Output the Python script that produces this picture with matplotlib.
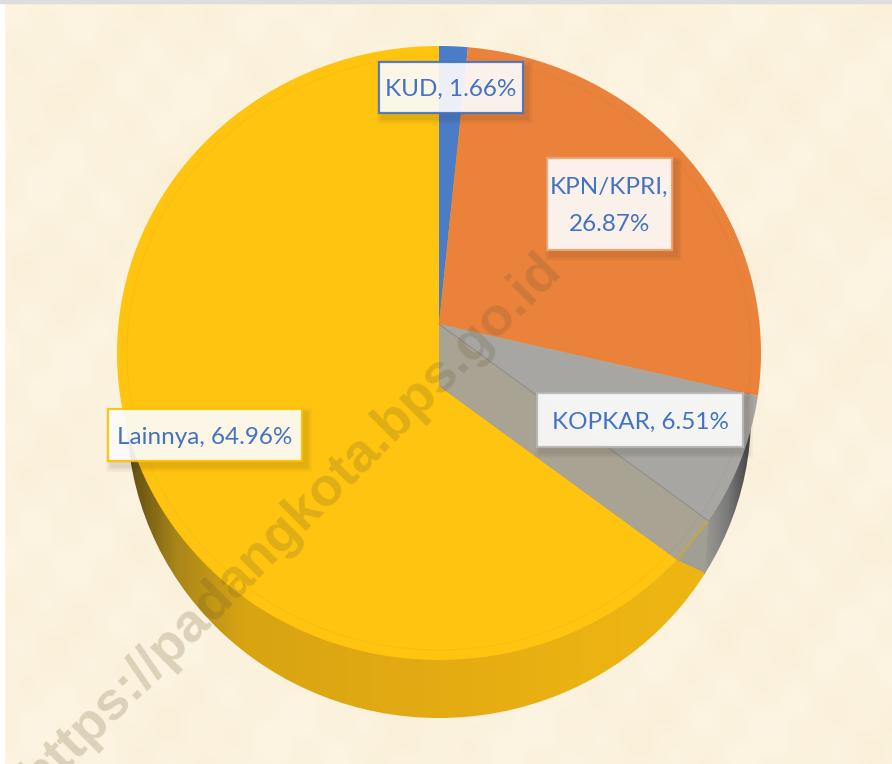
import numpy as np
import matplotlib
matplotlib.use("Agg")
import matplotlib.pyplot as plt
from matplotlib.colors import LinearSegmentedColormap
from matplotlib.patches import Ellipse, Rectangle

# chart data, clockwise from the top
categories = ["KUD", "KPN/KPRI", "KOPKAR", "Lainnya"]
shares = [1.66, 26.87, 6.51, 64.96]
label_texts = ["KUD, 1.66%", "KPN/KPRI,\n26.87%", "KOPKAR, 6.51%", "Lainnya, 64.96%"]
colors = ["#4A7CC7", "#EA823C", "#A8A6A3", "#FFC40F"]
edge_colors = ["#4472C4", "#F0A070", "#B5B5B5", "#FFC000"]
watermark = "https://padangkota.bps.go.id"

# everything is laid out in image pixels
W, H = 892, 764
APEX = np.array([439.0, 324.0])
TOP = (439.0, 353.0, 322.0, 307.0)     # top face ellipse cx, cy, rx, ry
LOW = (439.0, 415.0, 312.0, 303.0)     # lower rim ellipse
CUT = 62.0                             # height of the cut wall under the apex

plt.rcParams["font.family"] = ["Lato", "DejaVu Sans"]
fig = plt.figure(figsize=(W / 100, H / 100), dpi=100)
ax = fig.add_axes([0, 0, 1, 1])
ax.set_xlim(0, W)
ax.set_ylim(H, 0)
ax.axis("off")


def rim(origin, deg):
    # where a ray leaving origin at deg (clockwise from up) hits the top ellipse
    a = np.radians(deg)
    dx, dy = np.sin(a), -np.cos(a)
    cx, cy, rx, ry = TOP
    ox, oy = origin[0] - cx, origin[1] - cy
    A = (dx / rx) ** 2 + (dy / ry) ** 2
    B = 2 * (ox * dx / rx**2 + oy * dy / ry**2)
    C = (ox / rx) ** 2 + (oy / ry) ** 2 - 1
    s = (-B + np.sqrt(B**2 - 4 * A * C)) / (2 * A)
    return np.column_stack([origin[0] + s * dx, origin[1] + s * dy])


def face(origin, start, end):
    pts = rim(origin, np.linspace(start, end, 200))
    return np.vstack([origin, pts])


# paper background with a soft mottling
yy, xx = np.mgrid[0:H:4, 0:W:4]
mottle = (np.sin(xx / 37.0) * np.cos(yy / 29.0) + 0.6 * np.sin(xx / 13.0 + yy / 17.0)
          + 0.4 * np.cos(xx / 9.0 - yy / 11.0))
paper = LinearSegmentedColormap.from_list("paper", ["#FAF0D9", "#FDF5E3"])
ax.imshow(mottle, extent=(0, W, H, 0), cmap=paper, aspect="auto", interpolation="bicubic", zorder=0)
ax.add_patch(Rectangle((0, 0), 4, H, color="white", zorder=1))
ax.add_patch(Rectangle((0, 0), W, 3, color="#DDDDDD", zorder=1))

# rim of the pie: gold wall with a horizontal shade
cx, cy, rx, ry = LOW
low_patch = Ellipse((cx, cy), 2 * rx, 2 * ry, transform=ax.transData, fc="none", ec="none", zorder=2)
ax.add_patch(low_patch)
wall = LinearSegmentedColormap.from_list(
    "wall", [(0, "#5E4C12"), (0.08, "#A8851A"), (0.2, "#D8A412"), (0.6, "#E6AD12"), (0.9, "#EDB512"), (1, "#EDB512")])
img = ax.imshow(np.linspace(0, 1, 300).reshape(1, -1), extent=(127, 706, 764, 0), cmap=wall,
                aspect="auto", zorder=2)
img.set_clip_path(low_patch)
dark = LinearSegmentedColormap.from_list("dark", ["#9C9A94", "#7A7A7A", "#3F3F3F"])
img2 = ax.imshow(np.linspace(0, 1, 60).reshape(1, -1), extent=(704, 752, 764, 0), cmap=dark,
                 aspect="auto", zorder=2)
img2.set_clip_path(low_patch)
ax.set_xlim(0, W)
ax.set_ylim(H, 0)

# wedge limits come from the shares
edges = np.concatenate([[0], np.cumsum(shares) / np.sum(shares) * 360])

# Lainnya starts lower because the KOPKAR wall is cut in front of it
low_apex = APEX + [0, CUT]
ax.fill(*face(low_apex, edges[3], edges[4]).T, color=colors[3], lw=0, zorder=3)
a = rim(APEX, edges[3])[0]
b = rim(low_apex, edges[3])[0]
ax.fill([APEX[0], a[0], b[0], low_apex[0]], [APEX[1], a[1], b[1], low_apex[1]],
        color="#A9A394", lw=0, zorder=4)
ax.fill([a[0], 705, b[0]], [a[1], 573, b[1]], color="#A19E94", lw=0, zorder=4)
ax.plot([a[0], b[0]], [a[1], b[1]], color="#D0A82A", lw=1, zorder=5)

for i in range(3):
    ax.fill(*face(APEX, edges[i], edges[i + 1]).T, color=colors[i], lw=0, zorder=5)
ax.plot([APEX[0], a[0]], [APEX[1], a[1]], color="#8E8E8E", lw=0.8, zorder=6)

# faint inner ring on the top face
ax.add_patch(Ellipse((439, 353), 624, 594, fc="none", ec="#7A5A10", lw=0.7, alpha=0.06, zorder=6))

ax.text(291, 523, watermark, rotation=45, rotation_mode="anchor", ha="center", va="center",
        fontsize=39, fontweight="bold", family="Liberation Sans", color="#6B5A30", alpha=0.22, zorder=7,
        clip_on=True)

# data labels
boxes = [(379, 62, 144, 51), (547, 158, 125, 92), (537, 393, 206, 54), (108, 409, 194, 52)]
for text, color, (x, y, w, h) in zip(label_texts, edge_colors, boxes):
    for grow, alpha in [(6, 0.04), (4, 0.05), (2, 0.06)]:
        ax.add_patch(Rectangle((x + 4 - grow, y + 5 - grow), w + 2 * grow, h + 2 * grow, fc="#3A3020", ec="none",
                               alpha=alpha, zorder=8))
    ax.add_patch(Rectangle((x, y), w, h, fc="white", ec="none", alpha=0.9, zorder=9))
    ax.add_patch(Rectangle((x, y), w, h, fc="none", ec=color, lw=1.6, alpha=0.9, zorder=9))
    ax.text(x + w / 2, y + h / 2 + 2, text, ha="center", va="center", fontsize=17.5, color="#4472C4",
            linespacing=1.95, zorder=10)

fig.savefig("out.png", dpi=100)
